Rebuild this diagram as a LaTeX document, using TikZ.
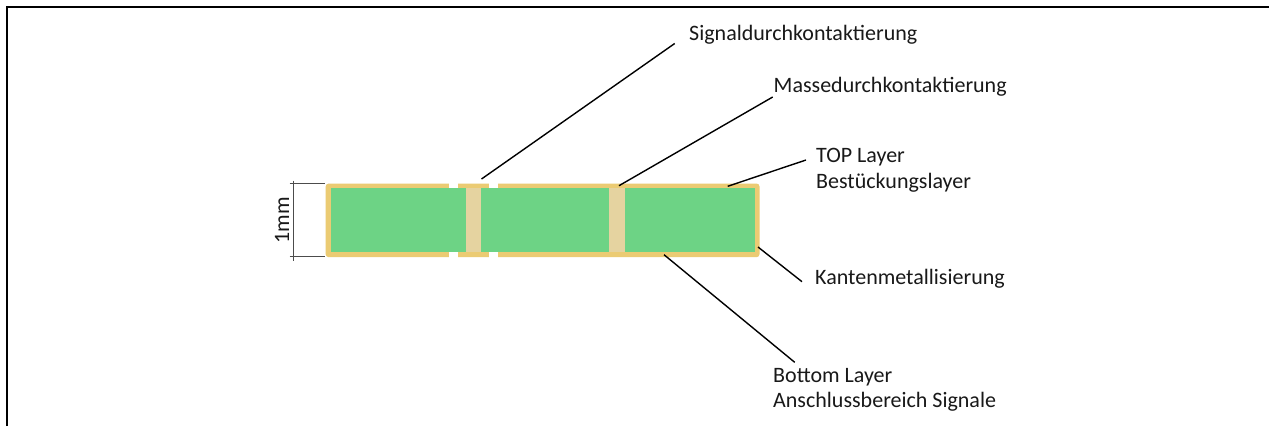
\documentclass[tikz,border=0pt]{standalone}
\usepackage{fontspec}
\setmainfont{Carlito}
\definecolor{goldc}{HTML}{EBCB73}
\definecolor{greenc}{HTML}{6DD385}
\definecolor{viac}{HTML}{E5D3A0}
\tikzset{
  lab/.style={anchor=base west,inner sep=0pt,font=\fontsize{22}{25.5}\selectfont,text=black!90,align=left},
  leader/.style={draw=black,line width=1.4pt},
  dim/.style={draw=black!70,line width=0.7pt},
  frameline/.style={draw=black,line width=2pt}
}
\begin{document}
\begin{tikzpicture}[x=1pt,y=-1pt]
\useasboundingbox (0,0) rectangle (1269,426);
\fill[white] (0,0) rectangle (1269,426);
% frame
\coordinate (fa) at (7,426); \coordinate (fb) at (7,7); \coordinate (fc) at (1269,7);
\draw[frameline] (fa) -- (fb) -- (fc);
% board
\fill[goldc,rounded corners=3pt] (325.7,183.5) rectangle (759.5,257.2);
\fill[white] (449.3,183) rectangle (458.3,188.5);
\fill[white] (489.3,183) rectangle (498,188.5);
\fill[white] (449.3,252) rectangle (458.3,258);
\fill[white] (489.3,252) rectangle (498,258);
\fill[greenc] (330.8,188.3) rectangle (755,252.3);
\fill[viac] (466.3,188.3) rectangle (481.3,252.3);
\fill[viac] (609.3,188.3) rectangle (624.7,252.3);
% dimension
\coordinate (d1) at (289.5,183.3); \coordinate (d2) at (325,183.3);
\coordinate (d3) at (289.5,256.8); \coordinate (d4) at (325,256.8);
\coordinate (d5) at (293.7,180.5); \coordinate (d6) at (293.7,261);
\draw[dim] (d1) -- (d2);
\draw[dim] (d3) -- (d4);
\draw[dim] (d5) -- (d6);
\node[inner sep=0pt,rotate=90,font=\fontsize{22}{26}\selectfont,text=black!90] (mm) at (282,220) {1mm};
% labels
\node[lab] (sig) at (689,40) {Signaldurchkontaktierung};
\node[lab] (mas) at (773.5,92) {Massedurchkontaktierung};
\node[lab] (top) at (816,188) {TOP Layer\\Bestückungslayer};
\node[lab] (kan) at (815,284) {Kantenmetallisierung};
\node[lab] (bot) at (773,407.7) {Bottom Layer\\Anschlussbereich Signale};
% leaders
\coordinate (s1) at (481.5,179); \coordinate (s2) at (674.7,43.5);
\coordinate (m1) at (619,185.7); \coordinate (m2) at (772.7,97);
\coordinate (t1) at (727.7,186.3); \coordinate (t2) at (806,160);
\coordinate (k1) at (758,247); \coordinate (k2) at (802,281.7);
\coordinate (b1) at (664,254.7); \coordinate (b2) at (794.7,362.3);
\draw[leader] (s1) -- (s2);
\draw[leader] (m1) -- (m2);
\draw[leader] (t1) -- (t2);
\draw[leader] (k1) -- (k2);
\draw[leader] (b1) -- (b2);
\end{tikzpicture}
\end{document}
